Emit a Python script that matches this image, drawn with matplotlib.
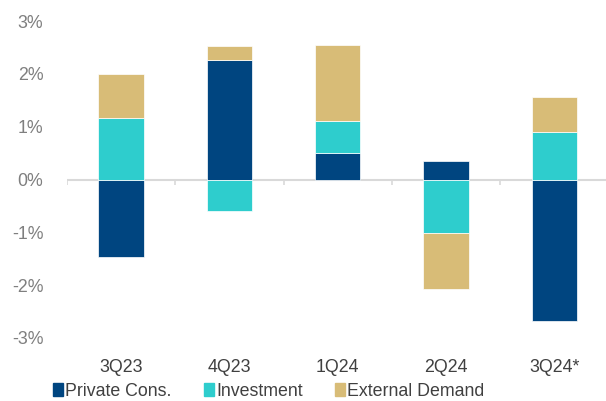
import numpy as np
import matplotlib.pyplot as plt
from matplotlib.patches import Patch

plt.rcParams['font.family'] = ['Liberation Sans', 'DejaVu Sans']

# contributions, percentage points
quarters = ['3Q23', '4Q23', '1Q24', '2Q24', '3Q24*']
private_cons = [-1.47, 2.27, 0.51, 0.35, -2.67]
investment = [1.16, -0.59, 0.59, -1.01, 0.89]
external = [0.84, 0.25, 1.44, -1.06, 0.67]

names = ['Private Cons.', 'Investment', 'External Demand']
colors = ['#004580', '#2ECDCD', '#D8BC77']

fig = plt.figure(figsize=(6.06, 4.01), dpi=100)
ax = fig.add_axes([67 / 606, 1 - 338 / 401, 541.5 / 606, 317 / 401])

x = np.arange(len(quarters))
pos_base = np.zeros(len(quarters))
neg_base = np.zeros(len(quarters))
for vals, c in zip([private_cons, investment, external], colors):
    v = np.array(vals)
    base = np.where(v >= 0, pos_base, neg_base)
    ax.bar(x, v, 0.42, bottom=base, color=c, edgecolor='white', linewidth=0.5)
    pos_base += np.where(v >= 0, v, 0)
    neg_base += np.where(v < 0, v, 0)

ax.axhline(0, color='#D9D9D9', lw=1.5, zorder=0)
ax.vlines(np.arange(-0.5, len(quarters)), -0.1, 0, color='#D9D9D9', lw=1.2, zorder=0)

ax.set_xlim(-0.5, len(quarters) - 0.5)
ax.set_ylim(-3, 3)
ax.set_yticks(np.arange(-3, 4))
ax.set_yticklabels(['%d%%' % t for t in range(-3, 4)])
ax.set_xticks(x)
ax.set_xticklabels(quarters)
ax.tick_params(axis='y', length=0, pad=17, labelsize=12.8, labelcolor='#7F7F7F')
ax.tick_params(axis='x', length=0, pad=15, labelsize=12.8, labelcolor='#404040')
for s in ax.spines.values():
    s.set_visible(False)

handles = [Patch(color=c) for c in colors]
fig.legend(handles, names, loc='center left', bbox_to_anchor=(53 / 606, 1 - 391 / 401),
           ncol=3, frameon=False, fontsize=12.8, labelcolor='#404040',
           handlelength=0.58, handleheight=0.75, handletextpad=0.12,
           columnspacing=1.8, borderpad=0, borderaxespad=0)

fig.savefig('out.png', dpi=100)
